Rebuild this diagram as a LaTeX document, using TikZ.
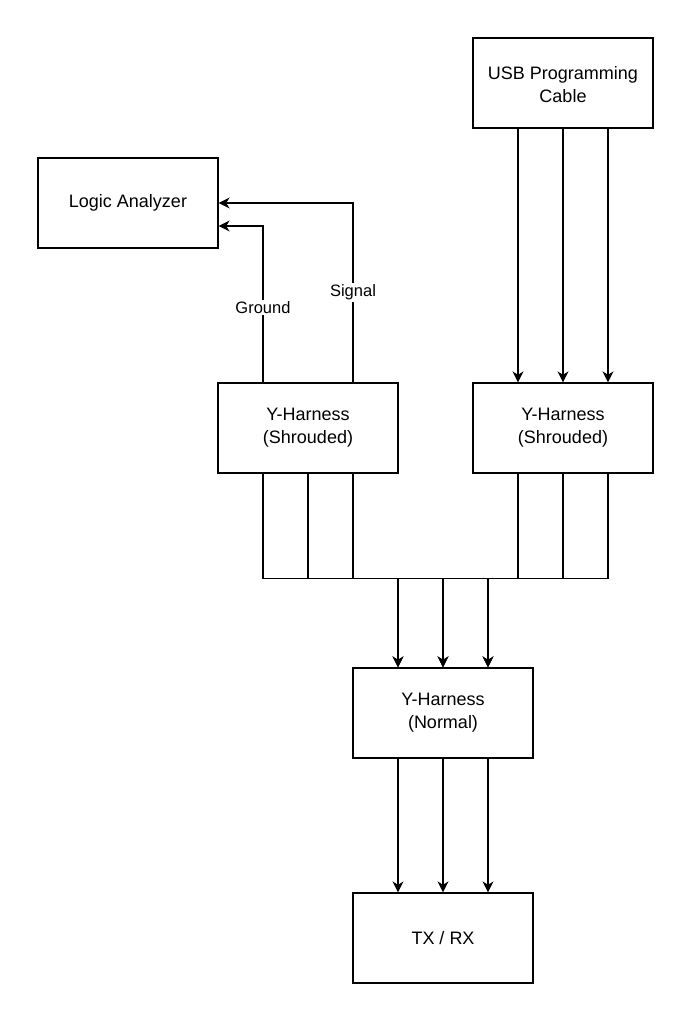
\documentclass[tikz,border=0pt]{standalone}
\usepackage{fontspec}
\setmainfont{Liberation Sans}
\usetikzlibrary{calc,arrows.meta}
\begin{document}
\begin{tikzpicture}[x=1pt,y=-1pt,
  box/.style={draw,line width=1.3pt,minimum width=180pt,minimum height=90pt,align=center,font=\fontsize{18}{23}\selectfont,inner sep=0pt},
  arr/.style={line width=1.3pt,-{Stealth[length=11pt,width=11pt,inset=3.5pt]}},
  lbl/.style={fill=white,font=\fontsize{16.5}{19}\selectfont,inner sep=1.5pt}]
\useasboundingbox (0,0) rectangle (692,1022);
\node[box] (usb) at (563,83) {\strut USB Programming\\Cable};
\node[box] (la) at (128,203) {Logic Analyzer};
\node[box] (yl) at (308,428) {Y-Harness\\(Shrouded)};
\node[box] (yr) at (563,428) {Y-Harness\\(Shrouded)};
\node[box] (yn) at (443,713) {Y-Harness\\(Normal)};
\node[box] (tx) at (443,938) {TX / RX};
% USB to right harness
\foreach \d in {-45,0,45}
  \draw[arr] ($(usb.south)+(\d,0)$) -- ($(yr.north)+(\d,0)$);
% left harness to logic analyzer
\draw[arr] ($(yl.north)+(-45,0)$) |- ($(la.east)+(0,23)$) node[lbl,pos=0.24] {Ground};
\draw[arr] ($(yl.north)+(45,0)$) |- (la.east) node[lbl,pos=0.25] {Signal};
% harnesses to normal harness
\foreach \d in {-45,0,45} {
  \draw[arr] ($(yl.south)+(\d,0)$) -- ++(0,105) -| ($(yn.north)+(\d,0)$);
  \draw[arr] ($(yr.south)+(\d,0)$) -- ++(0,105) -| ($(yn.north)+(\d,0)$);
}
% normal to TX/RX
\foreach \d in {-45,0,45}
  \draw[arr] ($(yn.south)+(\d,0)$) -- ($(tx.north)+(\d,0)$);
\end{tikzpicture}
\end{document}
